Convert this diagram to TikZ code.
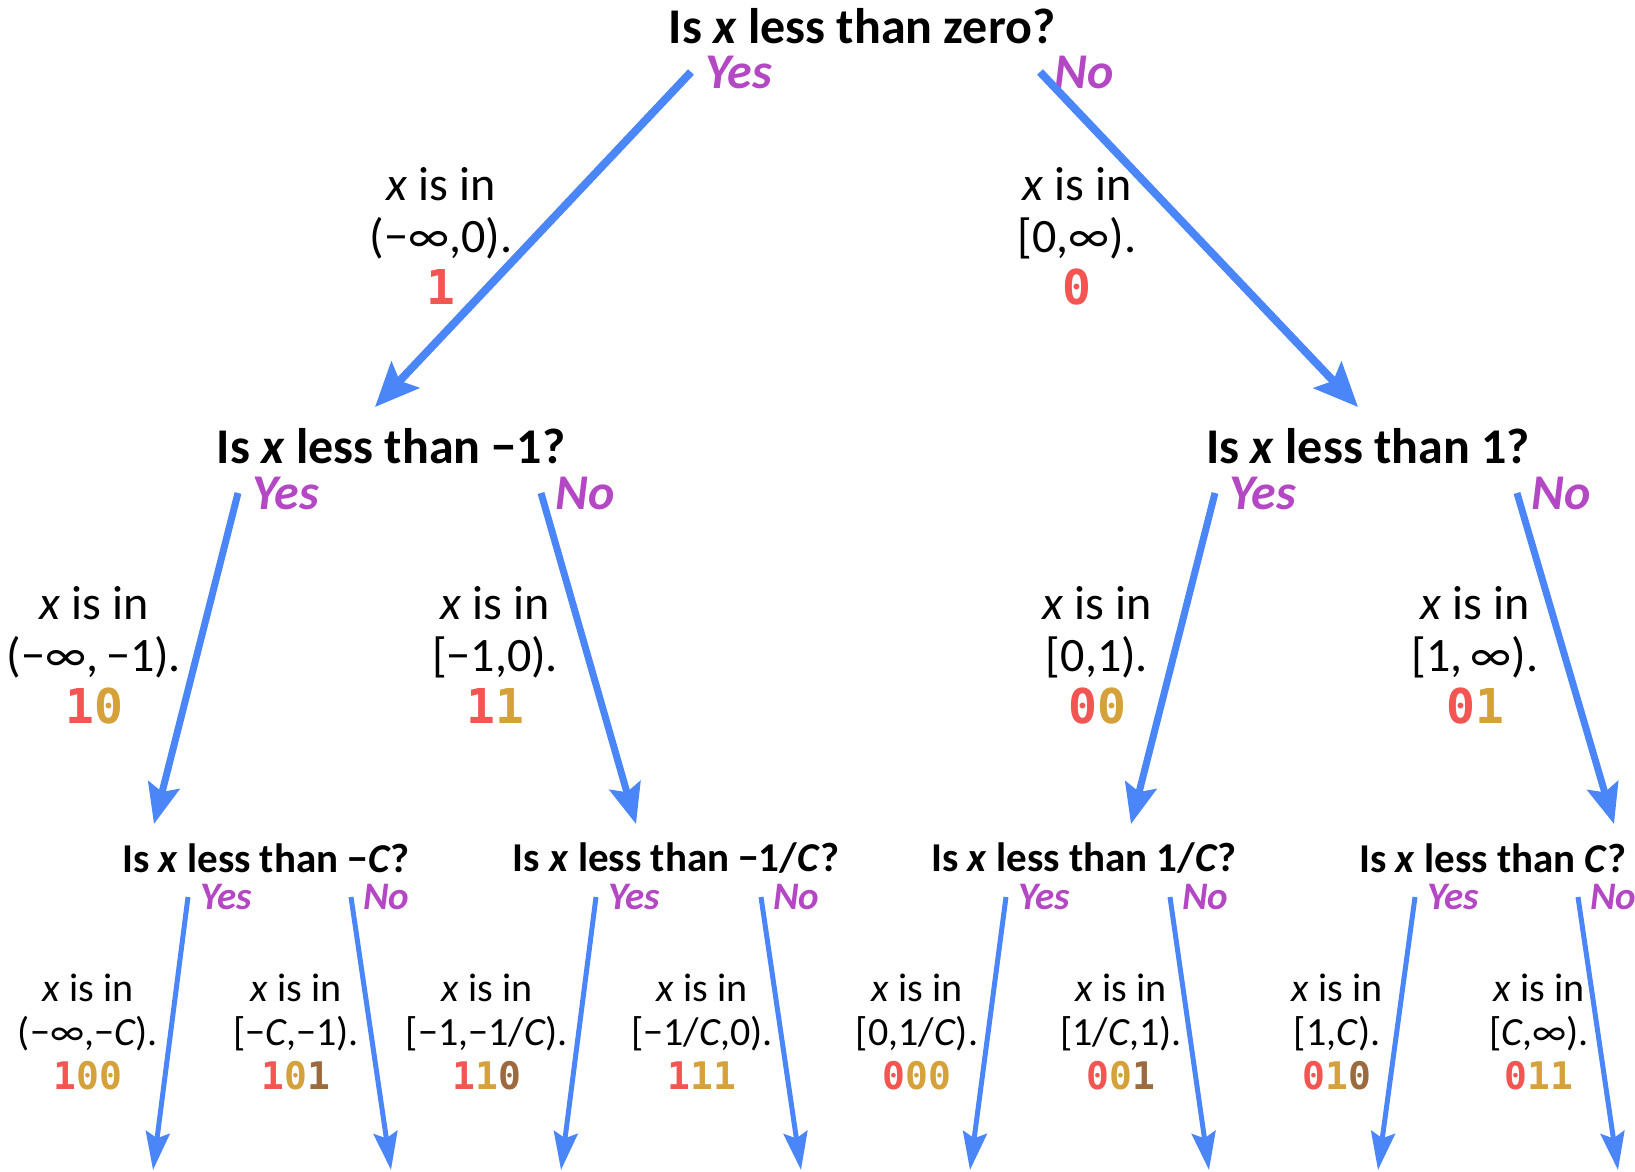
\documentclass[tikz,border=0pt]{standalone}
\usepackage{fontspec}
\setmainfont{Carlito}
\newfontfamily\codefont{DejaVu Sans Mono}
\usepackage{xcolor}
\usetikzlibrary{arrows.meta, positioning, calc}

\definecolor{arrowblue}{HTML}{4A86F7}
\definecolor{answerpink}{HTML}{B447C4}
\definecolor{bitred}{HTML}{F25552}
\definecolor{bitgold}{HTML}{D4A13A}
\definecolor{bitbrown}{HTML}{9B6A3E}

\newcommand{\bitA}[1]{\textcolor{bitred}{#1}}
\newcommand{\bitB}[1]{\textcolor{bitgold}{#1}}
\newcommand{\bitC}[1]{\textcolor{bitbrown}{#1}}
\newcommand{\xx}{\textit{x}}
\newcommand{\cc}{\textit{C}}

\begin{document}
\begin{tikzpicture}[
    x=0.5pt, y=-0.5pt,
    question/.style={font=\fontsize{25}{29}\selectfont\bfseries, inner sep=0pt},
    smallquestion/.style={font=\fontsize{20.5}{24}\selectfont\bfseries, inner sep=0pt},
    answer/.style={font=\fontsize{25}{29}\selectfont\bfseries\itshape, text=answerpink, anchor=west, inner xsep=7pt, inner ysep=0pt},
    smallanswer/.style={answer, font=\fontsize{19.5}{23}\selectfont\bfseries\itshape, inner xsep=6pt},
    rangebox/.style={align=center, font=\fontsize{24}{26}\selectfont, inner sep=0pt},
    smallrangebox/.style={align=center, font=\fontsize{20}{22}\selectfont, inner sep=0pt},
    arrow/.style={-{Stealth[length=22pt, width=19pt, inset=4pt]}, line width=4pt, draw=arrowblue},
    midarrow/.style={-{Stealth[length=20pt, width=16pt, inset=3.5pt]}, line width=3.5pt, draw=arrowblue},
    leafarrow/.style={-{Stealth[length=19pt, width=12pt, inset=3pt]}, line width=2.5pt, draw=arrowblue},
  ]
  \useasboundingbox (0,0) rectangle (1635,1172);

  % Root question
  \node[question] (q0) at (862,26) {Is \xx{} less than zero?};
  \node[answer] (y0) at (691,72) {Yes};
  \node[answer] (n0) at (1040,72) {No};

  % First level
  \node[rangebox] (r1) at (441,236) {\xx{} is in\\(−∞,0).\\{\codefont\bfseries\bitA{1}}};
  \node[rangebox] (r0) at (1077,236) {\xx{} is in\\{}[0,∞).\\{\codefont\bfseries\bitA{0}}};

  \node[question] (q1) at (391,446) {Is \xx{} less than −1?};
  \node[question] (q2) at (1368,446) {Is \xx{} less than 1?};
  \node[answer] (y1) at (238,493) {Yes};
  \node[answer] (n1) at (541,493) {No};
  \node[answer] (y2) at (1215,493) {Yes};
  \node[answer] (n2) at (1517,493) {No};

  % Second level
  \node[rangebox] (r10) at (94,655) {\xx{} is in\\(−∞,\,−1).\\{\codefont\bfseries\bitA{1}\bitB{0}}};
  \node[rangebox] (r11) at (495,655) {\xx{} is in\\{}[−1,0).\\{\codefont\bfseries\bitA{1}\bitB{1}}};
  \node[rangebox] (r00) at (1097,655) {\xx{} is in\\{}[0,1).\\{\codefont\bfseries\bitA{0}\bitB{0}}};
  \node[rangebox] (r01) at (1475,655) {\xx{} is in\\{}[1,\,∞).\\{\codefont\bfseries\bitA{0}\bitB{1}}};

  \node[smallquestion] (q3) at (266,858) {Is \xx{} less than −\cc?};
  \node[smallquestion] (q4) at (676,858) {Is \xx{} less than −1/\cc?};
  \node[smallquestion] (q5) at (1084,858) {Is \xx{} less than 1/\cc?};
  \node[smallquestion] (q6) at (1493,858) {Is \xx{} less than \cc?};
  \node[smallanswer] (y3) at (188,897) {Yes};
  \node[smallanswer] (n3) at (351,897) {No};
  \node[smallanswer] (y4) at (596,897) {Yes};
  \node[smallanswer] (n4) at (761,897) {No};
  \node[smallanswer] (y5) at (1006,897) {Yes};
  \node[smallanswer] (n5) at (1170,897) {No};
  \node[smallanswer] (y6) at (1415,897) {Yes};
  \node[smallanswer] (n6) at (1578,897) {No};

  % Leaves
  \node[smallrangebox] (r100) at (88,1032) {\xx{} is in\\(−∞,−\cc).\\{\codefont\bfseries\fontsize{19}{22}\selectfont\bitA{1}\bitB{0}\bitB{0}}};
  \node[smallrangebox] (r101) at (296,1032) {\xx{} is in\\{}[−\cc,−1).\\{\codefont\bfseries\fontsize{19}{22}\selectfont\bitA{1}\bitB{0}\bitC{1}}};
  \node[smallrangebox] (r110) at (487,1032) {\xx{} is in\\{}[−1,−1/\cc).\\{\codefont\bfseries\fontsize{19}{22}\selectfont\bitA{1}\bitB{1}\bitC{0}}};
  \node[smallrangebox] (r111) at (702,1032) {\xx{} is in\\{}[−1/\cc,0).\\{\codefont\bfseries\fontsize{19}{22}\selectfont\bitA{1}\bitB{1}\bitB{1}}};
  \node[smallrangebox] (r000) at (917,1032) {\xx{} is in\\{}[0,1/\cc).\\{\codefont\bfseries\fontsize{19}{22}\selectfont\bitA{0}\bitB{0}\bitB{0}}};
  \node[smallrangebox] (r001) at (1121,1032) {\xx{} is in\\{}[1/\cc,1).\\{\codefont\bfseries\fontsize{19}{22}\selectfont\bitA{0}\bitB{0}\bitC{1}}};
  \node[smallrangebox] (r010) at (1337,1032) {\xx{} is in\\{}[1,\cc).\\{\codefont\bfseries\fontsize{19}{22}\selectfont\bitA{0}\bitB{1}\bitC{0}}};
  \node[smallrangebox] (r011) at (1539,1032) {\xx{} is in\\{}[\cc,∞).\\{\codefont\bfseries\fontsize{19}{22}\selectfont\bitA{0}\bitB{1}\bitB{1}}};

  % open ends at the bottom
  \coordinate (e100) at (153,1170);
  \coordinate (e101) at (391,1170);
  \coordinate (e110) at (561,1170);
  \coordinate (e111) at (801,1170);
  \coordinate (e000) at (970,1170);
  \coordinate (e001) at (1209,1170);
  \coordinate (e010) at (1378,1170);
  \coordinate (e011) at (1618,1170);

  % Arrows
  \draw[arrow] (y0.west) -- ($(q1)+(-16,-39)$);
  \draw[arrow] (n0.west) -- ($(q2)+(-10,-39)$);
  \draw[midarrow] (y1.west) -- ($(q3)+(-112,-34)$);
  \draw[midarrow] (n1.west) -- ($(q4)+(-40,-34)$);
  \draw[midarrow] (y2.west) -- ($(q5)+(47,-34)$);
  \draw[midarrow] (n2.west) -- ($(q6)+(121,-34)$);
  \draw[leafarrow] (y3.west) -- (e100);
  \draw[leafarrow] (n3.west) -- (e101);
  \draw[leafarrow] (y4.west) -- (e110);
  \draw[leafarrow] (n4.west) -- (e111);
  \draw[leafarrow] (y5.west) -- (e000);
  \draw[leafarrow] (n5.west) -- (e001);
  \draw[leafarrow] (y6.west) -- (e010);
  \draw[leafarrow] (n6.west) -- (e011);

\end{tikzpicture}
\end{document}
